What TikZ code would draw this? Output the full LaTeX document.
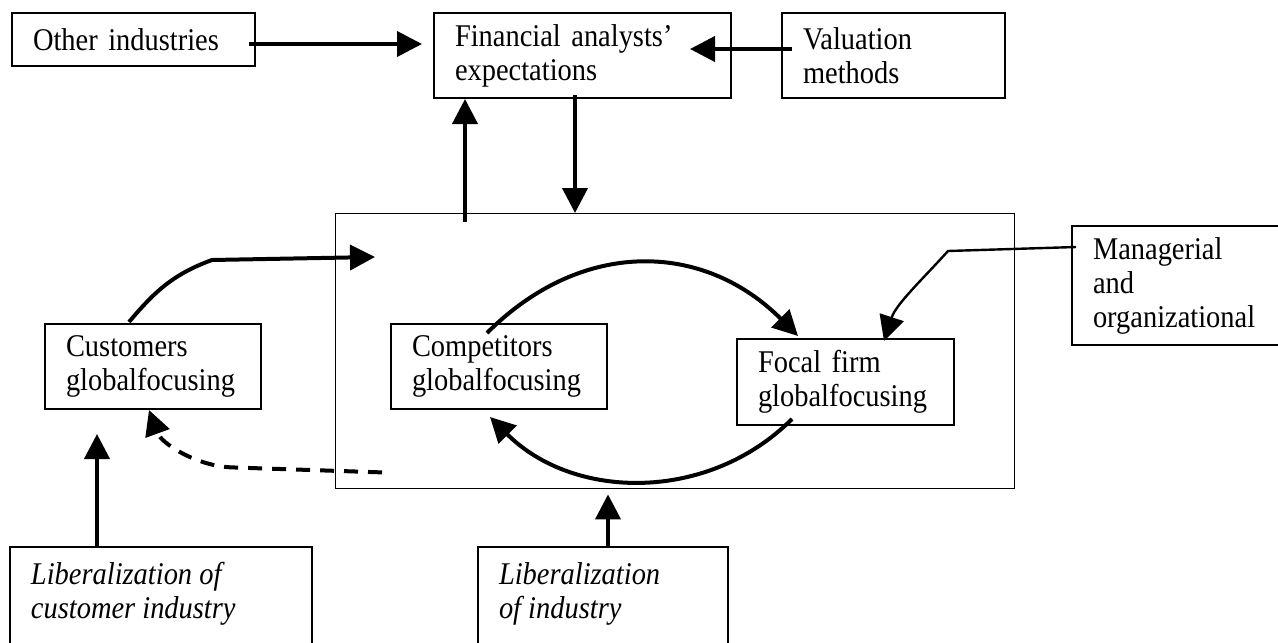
\documentclass[tikz,border=0pt]{standalone}
\usepackage{fontspec}
\setmainfont[FakeStretch=0.9]{Liberation Serif}
\usetikzlibrary{arrows.meta}
\tikzstyle{block} = [rectangle, draw=black, line width=1pt, anchor=north west, inner xsep=10.5pt, inner ysep=0pt, align=left, font=\fontsize{15.8pt}{17pt}\selectfont]
\tikzstyle{libbox} = [rectangle, draw=black, line width=1pt, anchor=north west, inner xsep=10.5pt, inner ysep=7.7pt, font=\fontsize{15.8pt}{17pt}\selectfont\itshape]
\tikzstyle{frame} = [rectangle, draw=black, line width=0.7pt, anchor=north west, inner sep=0pt]
\tikzstyle{arrow} = [line width=2pt, -{Triangle[length=12.5pt, width=12.5pt]}]
\tikzstyle{thinarrow} = [line width=1.2pt, -{Triangle[length=12.5pt, width=12.5pt]}]
\tikzstyle{dasharrow} = [arrow, dash pattern=on 7pt off 5pt]

\begin{document}
\begin{tikzpicture}[x=0.5pt, y=-0.5pt]

    \useasboundingbox (0,0) rectangle (1278,642);
    \clip (0,0) rectangle (1278,642);

    \node (system) [frame, minimum width=339.5pt, minimum height=137.5pt] at (335,213) {};

    \node (other)   [block, text width=100.5pt, minimum height=26.5pt] at (11,12)    {Other industries};
    \node (fin)     [block, text width=127.5pt, minimum height=42.5pt] at (433,12)   {Financial analysts’\\expectations};
    \node (val)     [block, text width=90.5pt,  minimum height=42.5pt] at (781,12)   {Valuation\\methods};
    \node (cust)    [block, text width=87pt,    minimum height=42.5pt] at (44,323)   {Customers\\globalfocusing};
    \node (comp)    [block, text width=87pt,    minimum height=42.5pt] at (390,323)  {Competitors\\globalfocusing};
    \node (focal)   [block, text width=87.5pt,  minimum height=43pt]   at (736,338)  {Focal firm\\globalfocusing};
    \node (manag)   [block, text width=94pt,    minimum height=59.5pt] at (1071,225) {Managerial\\and\\organizational};
    \node (libcust) [libbox] at (9,546)   {\parbox[t][60pt][t]{130pt}{Liberalization of\\customer industry}};
    \node (libind)  [libbox] at (477,546) {\parbox[t][60pt][t]{104pt}{Liberalization\\of industry}};

    \draw [arrow] ([xshift=-3.5pt,yshift=-2.25pt]other.east) -- ([xshift=-5.5pt,yshift=-2.25pt]other.east -| fin.west);
    \draw [arrow] ([xshift=5.5pt,yshift=3.25pt]val.west)     -- ([xshift=-21pt,yshift=3.25pt]val.west -| fin.east);
    \draw [arrow] ([xshift=16pt,yshift=-4.5pt]fin.south west |- system.north) -- ([xshift=16pt]fin.south west);
    \draw [arrow] ([xshift=71pt,yshift=2pt]fin.south west)   -- ([xshift=71pt]fin.south west |- system.north);
    \draw [arrow] ([xshift=42.5pt,yshift=0.5pt]cust.north west) to[out=50, in=200] ++(83,-62) -- ([xshift=20pt,yshift=-22pt]system.north west);
    \draw [arrow] ([xshift=48.5pt,yshift=-5pt]comp.north west) to[out=45, in=135, looseness=1.1] ([xshift=31pt,yshift=1pt]focal.north west);
    \draw [arrow] ([xshift=28pt,yshift=3.5pt]focal.south west) to[out=-135, in=-45] ([xshift=50pt,yshift=-3.5pt]comp.south west);
    \draw [thinarrow] ([xshift=2.5pt,yshift=-11pt]manag.north west) -- ++(-128,4) to[out=228, in=72, looseness=0.9] ([xshift=-35.5pt,yshift=-1.5pt]focal.north east);
    \draw [dasharrow] ([xshift=23.5pt,yshift=8.5pt]system.south west) -- ++(-150,-5) to[out=178, in=-70, looseness=0.9] ([xshift=52.5pt]cust.south west);
    \draw [arrow] ([xshift=44pt]libcust.north west)  -- ([xshift=44pt,yshift=-12pt]libcust.north west |- cust.south);
    \draw [arrow] ([xshift=65.5pt]libind.north west) -- ([xshift=65.5pt,yshift=-2.5pt]libind.north west |- system.south);

\end{tikzpicture}
\end{document}
